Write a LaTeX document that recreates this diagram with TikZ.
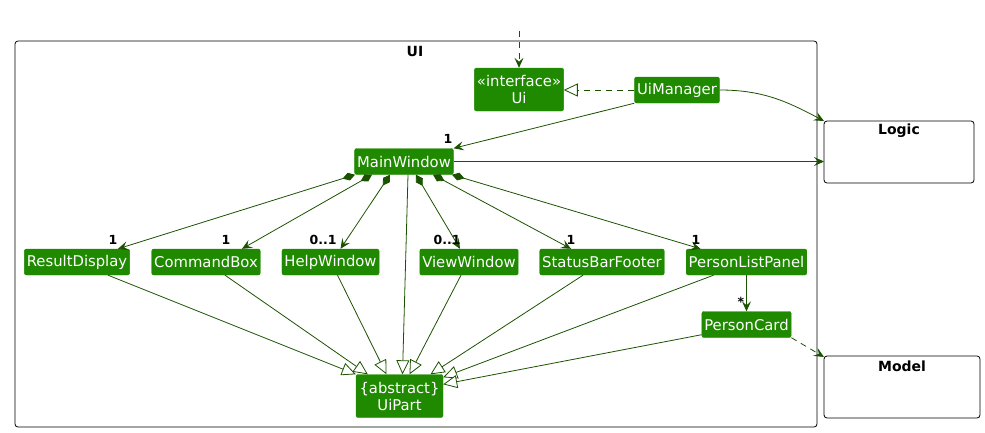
\documentclass[tikz,border=0pt]{standalone}
\usepackage{fontspec}
\setmainfont{DejaVu Sans}
\usetikzlibrary{arrows.meta}
\definecolor{nodegreen}{HTML}{1F8A00}
\definecolor{linegreen}{HTML}{1B5200}
\tikzset{
  cls/.style={fill=nodegreen, draw=nodegreen, rounded corners=2pt, text=white,
    font=\fontsize{14.8}{17}\selectfont, inner xsep=2.5pt, inner ysep=2pt,
    minimum height=26pt, align=center},
  cls2/.style={cls, minimum height=43pt},
  pkg/.style={draw=black, line width=0.8pt, rounded corners=3pt},
  pkglabel/.style={font=\fontsize{14}{16}\selectfont\bfseries, inner sep=0pt},
  mult/.style={font=\fontsize{12.5}{14}\selectfont\bfseries, inner sep=0pt},
  edge/.style={draw=linegreen, line width=0.8pt},
  arr/.style={edge, -{Stealth[length=10pt,width=9pt,inset=4pt]}},
  darr/.style={arr, dash pattern=on 6pt off 5pt},
  real/.style={edge, dash pattern=on 6pt off 5pt, -{Triangle[open,length=14pt,width=13pt,fill=white]}},
  gen/.style={edge, -{Triangle[open,length=14pt,width=13pt,fill=white]}},
  comp/.style={edge, {Diamond[length=13pt,width=8pt,fill=linegreen]}-{Stealth[length=10pt,width=9pt,inset=4pt]}},
}
\begin{document}
\begin{tikzpicture}[x=1pt,y=-1pt]
\useasboundingbox (0,0) rectangle (985,432);
% packages
\draw[pkg] (15,41) rectangle (817,427);
\node[pkglabel] (uilbl) at (415,51) {UI};
\draw[pkg] (824,121) rectangle (974,183);
\node[pkglabel] (logiclbl) at (899,131) {Logic};
\coordinate (logicNW) at (824,121);
\coordinate (logicW) at (824,161);
\draw[pkg] (824,356) rectangle (980,418);
\node[pkglabel] (modellbl) at (902,366) {Model};
\coordinate (modelNW) at (824,357);

% classes
\node[cls2, minimum width=88pt] (ui) at (519,89.5) {«interface»\\Ui};
\node[cls] (uim) at (677,90) {UiManager};
\node[cls] (mw) at (404,161.5) {MainWindow};
\node[cls] (rd) at (77,262) {ResultDisplay};
\node[cls] (cb) at (206,262) {CommandBox};
\node[cls] (hw) at (330.5,262) {HelpWindow};
\node[cls] (vw) at (469,262) {ViewWindow};
\node[cls] (sb) at (602,262) {StatusBarFooter};
\node[cls] (pl) at (746.5,262) {PersonListPanel};
\node[cls] (pc) at (746.5,324.5) {PersonCard};
\node[cls2, minimum width=87pt] (up) at (399.5,396) {\{abstract\}\\UiPart};

% external arrow into Ui
\coordinate (topin) at (519,31);
\draw[darr] (topin) -- (ui.north);

% UiManager relations
\draw[real] (uim.west) -- (uim.west -| ui.east);
\draw[arr] (uim.south west) -- (mw.north east);
\node[mult] (m0) at (448,139) {1};
\draw[arr] (uim.east) to[out=0,in=152] (logicNW);
\draw[arr] (mw.east) -- (mw.east -| logicW);

% compositions
\draw[comp] ([xshift=-49pt]mw.south) -- ([xshift=41pt]rd.north);
\node[mult] (m1) at (113,240) {1};
\draw[comp] ([xshift=-32pt]mw.south) -- ([xshift=36pt]cb.north);
\node[mult] (m2) at (226,240) {1};
\draw[comp] ([xshift=-14pt]mw.south) -- ([xshift=10pt]hw.north);
\node[mult] (m3) at (323,240) {0..1};
\draw[comp] ([xshift=12pt]mw.south) -- ([xshift=-9pt]vw.north);
\node[mult] (m4) at (447,240) {0..1};
\draw[comp] ([xshift=29pt]mw.south) -- ([xshift=-31pt]sb.north);
\node[mult] (m5) at (571,240) {1};
\draw[comp] ([xshift=48pt]mw.south) -- ([xshift=-46pt]pl.north);
\node[mult] (m6) at (696,240) {1};

% generalisations
\draw[gen] ([xshift=4pt]mw.south) -- ([xshift=3pt]up.north);
\draw[gen] ([xshift=31pt]rd.south) -- (up.north west);
\draw[gen] ([xshift=19pt]cb.south) -- ([xshift=12pt]up.north west);
\draw[gen] ([xshift=7pt]hw.south) -- ([xshift=-13pt]up.north);
\draw[gen] ([xshift=-8pt]vw.south) -- ([xshift=10pt]up.north);
\draw[gen] ([xshift=-19pt]sb.south) -- ([xshift=31pt]up.north);
\draw[gen] ([xshift=-33pt]pl.south) -- ([yshift=-3pt]up.north east);
\draw[gen] ([yshift=3pt]pc.south west) -- ([yshift=-10pt]up.north east);

% PersonListPanel -> PersonCard
\draw[arr] (pl.south) -- (pc.north);
\node[mult] (m7) at (741,302) {*};

% PersonCard -> Model
\draw[darr] (pc.south east) -- (modelNW);
\end{tikzpicture}
\end{document}
